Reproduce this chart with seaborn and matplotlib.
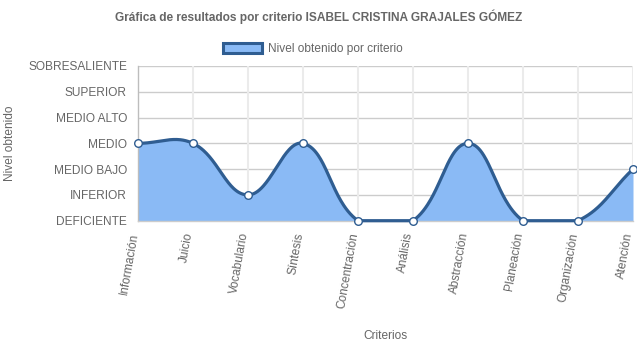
import numpy as np
import pandas as pd
import matplotlib
matplotlib.use("Agg")
import matplotlib.pyplot as plt
import seaborn as sns
from matplotlib.patches import Patch

# ---- data ----
criterios = ["Información", "Juicio", "Vocabulario", "Síntesis", "Concentración",
             "Análisis", "Abstracción", "Planeación", "Organización", "Atención"]
niveles = [3, 3, 1, 3, 0, 0, 3, 0, 0, 2]
nivel_labels = ["DEFICIENTE", "INFERIOR", "MEDIO BAJO", "MEDIO",
                "MEDIO ALTO", "SUPERIOR", "SOBRESALIENTE"]
titulo = "Gráfica de resultados por criterio ISABEL CRISTINA GRAJALES GÓMEZ"
serie = "Nivel obtenido por criterio"

sns.set_theme(style="white")
plt.rcParams["font.family"] = ["Liberation Sans", "DejaVu Sans"]

LINE = "#2f5d91"
FILL = "#8abaf5"
TXT = "#666666"
FS = 8.6

W, H = 637, 348
fig = plt.figure(figsize=(W / 100, H / 100), dpi=100)
L, R, T, B = 138, 633, 66, 220.7
ax = fig.add_axes([L / W, 1 - B / H, (R - L) / W, (B - T) / H])

n = len(niveles)
ymax = len(nivel_labels) - 1
sx = (R - L) / (n - 1)
sy = (B - T) / ymax

# Chart.js-style cubic bezier (tension 0.4), computed in pixel space
px = np.arange(n) * sx
py = np.array(niveles, dtype=float) * sy
t = 0.4
cprev = np.zeros((n, 2))
cnext = np.zeros((n, 2))
for i in range(n):
    p0 = np.array([px[max(i - 1, 0)], py[max(i - 1, 0)]])
    p1 = np.array([px[i], py[i]])
    p2 = np.array([px[min(i + 1, n - 1)], py[min(i + 1, n - 1)]])
    d01 = np.hypot(*(p1 - p0))
    d12 = np.hypot(*(p2 - p1))
    s = d01 + d12
    s01 = d01 / s if s else 0
    s12 = d12 / s if s else 0
    cprev[i] = p1 - t * s01 * (p2 - p0)
    cnext[i] = p1 + t * s12 * (p2 - p0)
cprev[:, 0] = np.clip(cprev[:, 0], 0, px[-1])
cnext[:, 0] = np.clip(cnext[:, 0], 0, px[-1])
cprev[:, 1] = np.clip(cprev[:, 1], 0, ymax * sy)
cnext[:, 1] = np.clip(cnext[:, 1], 0, ymax * sy)

xs, ys = [], []
tt = np.linspace(0, 1, 60)
for i in range(n - 1):
    P0 = np.array([px[i], py[i]])
    P1 = cnext[i]
    P2 = cprev[i + 1]
    P3 = np.array([px[i + 1], py[i + 1]])
    pts = ((1 - tt) ** 3)[:, None] * P0 + (3 * (1 - tt) ** 2 * tt)[:, None] * P1 \
        + (3 * (1 - tt) * tt ** 2)[:, None] * P2 + (tt ** 3)[:, None] * P3
    xs.extend(pts[:, 0] / sx)
    ys.extend(pts[:, 1] / sy)
curve = pd.DataFrame({"x": xs, "y": ys})

ax.fill_between(curve["x"], curve["y"], 0, color=FILL, alpha=1, lw=0, zorder=1)
sns.lineplot(data=curve, x="x", y="y", sort=False, estimator=None, ax=ax,
             color=LINE, lw=2.3, zorder=3, clip_on=False)
pts_df = pd.DataFrame({"x": np.arange(n), "y": niveles})
sns.scatterplot(data=pts_df, x="x", y="y", ax=ax, s=30, color="white",
                edgecolor=LINE, linewidth=1.0, zorder=4, clip_on=False)

ax.set_xlim(0, n - 1)
ax.set_ylim(0, ymax)
ax.set_xticks(range(n))
ax.set_xticklabels([])
for i, lab in enumerate(criterios):
    ax.annotate(lab, xy=(i, 0), xycoords=("data", "axes fraction"),
                xytext=(-3.5, -12), textcoords="offset pixels",
                rotation=80, ha="right", va="center", rotation_mode="anchor",
                fontsize=FS, color=TXT, annotation_clip=False)
ax.set_yticks(range(len(nivel_labels)))
ax.set_yticklabels(nivel_labels, fontsize=FS, color=TXT)
ax.set_xlabel("")
ax.set_ylabel("")

ax.grid(False)
for k in range(1, ymax + 1):
    ax.axhline(k, color="#cccccc", lw=1.0, zorder=0.5)
for k in range(1, n):
    ax.axvline(k, color="#ebebeb", lw=1.5, zorder=0.5)
for side in ["top", "right"]:
    ax.spines[side].set_visible(False)
ax.spines["left"].set_color("#bdbdbd")
ax.spines["bottom"].set_color("#cccccc")
ax.spines["left"].set_linewidth(1.0)
ax.spines["bottom"].set_linewidth(1.0)
ax.tick_params(axis="y", length=7, width=0.8, color="#cccccc", pad=1)
ax.tick_params(axis="x", length=7, width=0.8, color="#e6e6e6", pad=2)

fig.text(0.5, 1 - 17 / H, titulo, ha="center", va="center",
         fontsize=FS, fontweight="bold", color=TXT)
fig.text(10 / W, 1 - 143 / H, "Nivel obtenido", rotation=90, ha="center",
         va="center", fontsize=FS, color=TXT)
fig.text(385.5 / W, 1 - 336 / H, "Criterios", ha="center", va="center",
         fontsize=FS, color=TXT)

handle = Patch(facecolor=FILL, edgecolor=LINE, linewidth=2.2, label=serie)
leg = fig.legend(handles=[handle], loc="center", bbox_to_anchor=(313 / W, 1 - 49 / H),
                 frameon=False, fontsize=FS, handlelength=3.3, handleheight=1.0,
                 handletextpad=0.5, borderpad=0)
for txt in leg.get_texts():
    txt.set_color(TXT)

fig.savefig("out.png", dpi=100)
